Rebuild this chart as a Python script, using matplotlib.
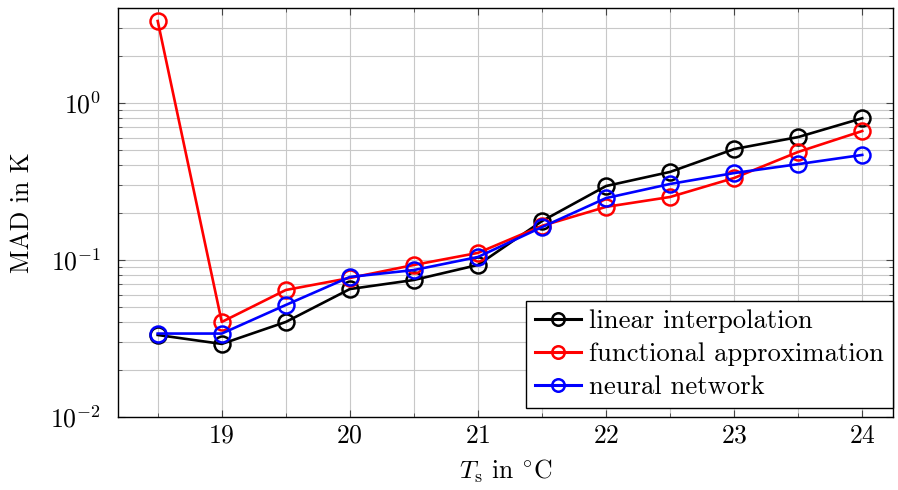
import matplotlib
matplotlib.use("Agg")
import matplotlib.pyplot as plt
from matplotlib.ticker import LogLocator, MultipleLocator, NullFormatter

plt.rcParams['font.family'] = 'serif'
plt.rcParams['font.serif'] = ['cmr10']
plt.rcParams['mathtext.fontset'] = 'cm'
plt.rcParams['axes.formatter.use_mathtext'] = True

temps = [18.5, 19.0, 19.5, 20.0, 20.5, 21.0, 21.5, 22.0, 22.5, 23.0, 23.5, 24.0]
linear_interp = [0.0333, 0.0292, 0.0403, 0.0653, 0.0746, 0.093, 0.177, 0.296, 0.364, 0.509, 0.607, 0.80]
functional_approx = [3.33, 0.0403, 0.0644, 0.0768, 0.093, 0.111, 0.165, 0.218, 0.252, 0.333, 0.488, 0.663]
neural_net = [0.034, 0.034, 0.0517, 0.078, 0.0863, 0.1045, 0.162, 0.248, 0.305, 0.358, 0.408, 0.467]
labels = ['linear interpolation', 'functional approximation', 'neural network']
colors = ['black', 'red', 'blue']

FS = 18.5

fig = plt.figure(figsize=(8.98, 4.90), dpi=100)
ax = fig.add_axes([0.1314, 0.149, 0.863, 0.8347])

for ys, lab, c in zip([linear_interp, functional_approx, neural_net], labels, colors):
    ax.plot(temps, ys, color=c, lw=1.9, marker='o', ms=11.5, mfc='none',
            mec=c, mew=1.8, label=lab)

ax.set_yscale('log')
ax.set_xlim(18.19, 24.24)
ax.set_ylim(1e-2, 4.03)
ax.xaxis.set_major_locator(MultipleLocator(1))
ax.xaxis.set_minor_locator(MultipleLocator(0.5))
ax.yaxis.set_major_locator(LogLocator(base=10, numticks=10))
ax.yaxis.set_minor_locator(LogLocator(base=10, subs=range(2, 10), numticks=20))
ax.yaxis.set_minor_formatter(NullFormatter())

ax.grid(True, which='both', color='#c8c8c8', lw=0.8)
ax.set_axisbelow(True)
ax.tick_params(which='both', direction='in', top=True, right=True, labelsize=FS, colors='black')
ax.tick_params(which='major', length=5, color='#444444')
ax.tick_params(which='minor', length=3, color='#444444')
ax.tick_params(axis='x', which='major', pad=5)
ax.tick_params(axis='y', which='major', pad=12)
for s in ax.spines.values():
    s.set_linewidth(1.0)

ax.set_xlabel(r'$T_{\mathrm{s}}$ in ${}^{\circ}$C', fontsize=FS, labelpad=7)
ax.set_ylabel('MAD in K', fontsize=FS, labelpad=12)

leg = ax.legend(loc='lower right', bbox_to_anchor=(1.0, 0.022), fontsize=19.2,
                frameon=True, fancybox=False, edgecolor='black', framealpha=1,
                handlelength=1.75, borderaxespad=0.0, labelspacing=0.35,
                handletextpad=0.3, borderpad=0.33)
leg.get_frame().set_linewidth(1.0)
for h in leg.legend_handles:
    h.set_markersize(9)
    h.set_linewidth(2.2)

fig.savefig('out.png', dpi=100)
